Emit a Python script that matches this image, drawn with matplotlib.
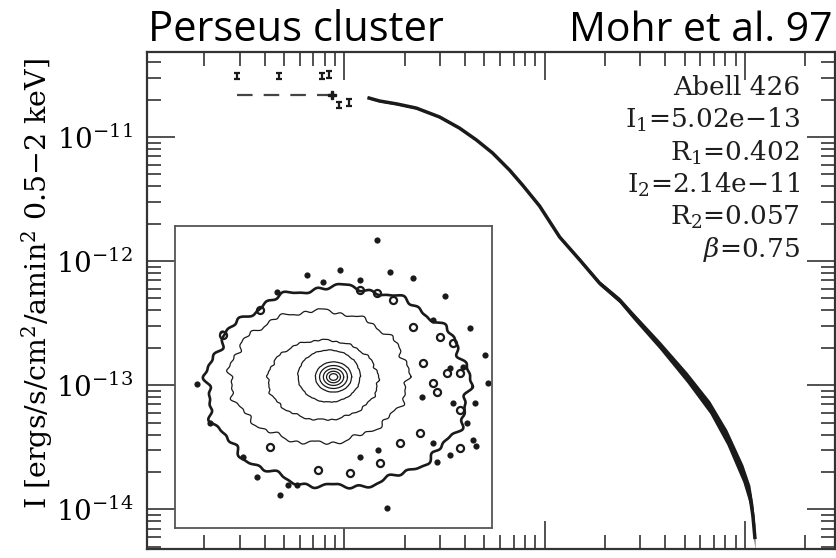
import matplotlib
matplotlib.use("Agg")
import matplotlib.pyplot as plt
import numpy as np

# surface brightness profile (radius, intensity)
radius = [0.0133, 0.0150, 0.0182, 0.0229, 0.0299, 0.0376, 0.0457, 0.0550,
          0.0668, 0.0776, 0.0944, 0.119, 0.150, 0.188, 0.237, 0.275,
          0.376, 0.513, 0.668, 0.813, 0.977, 1.059, 1.096, 1.122]
intensity = [2.06e-11, 1.95e-11, 1.85e-11, 1.71e-11, 1.45e-11, 1.18e-11,
             9.46e-12, 7.43e-12, 5.42e-12, 4.10e-12, 2.78e-12, 1.56e-12,
             1.02e-12, 6.65e-13, 4.84e-13, 3.67e-13, 2.10e-13, 1.16e-13,
             6.65e-14, 3.81e-14, 1.95e-14, 1.30e-14, 8.95e-15, 5.94e-15]
scatter_dex = [0.008, 0.008, 0.008, 0.008, 0.008, 0.008, 0.008, 0.008,
               0.01, 0.01, 0.01, 0.012, 0.015, 0.018, 0.022, 0.027,
               0.033, 0.042, 0.05, 0.06, 0.07, 0.08, 0.09, 0.1]

# central points and model extension
model_r = [0.0029, 0.0087]
model_i = [2.18e-11, 2.18e-11]
upper_r = [0.0029, 0.0047, 0.0077, 0.0084]
upper_i = [3.1e-11, 3.1e-11, 3.1e-11, 3.2e-11]
low_r = [0.0094, 0.0106]
low_i = [1.81e-11, 1.90e-11]

y_ticks = [1e-14, 1e-13, 1e-12, 1e-11]

fit_lines = ["Abell 426", r"I$_1$=5.02e$-$13", r"R$_1$=0.402",
             r"I$_2$=2.14e$-$11", r"R$_2$=0.057", r"$\beta$=0.75"]

# inset contour map (fractions of the inset box)
ring_cx = [0.514, 0.454, 0.467, 0.486, 0.50, 0.50, 0.50, 0.50, 0.50]
ring_cy = [0.467, 0.500, 0.490, 0.503, 0.50, 0.50, 0.50, 0.50, 0.50]
ring_a = [0.413, 0.281, 0.174, 0.098, 0.057, 0.044, 0.032, 0.022, 0.013]
ring_b = [0.331, 0.219, 0.132, 0.086, 0.050, 0.038, 0.028, 0.019, 0.011]
ring_lw = [1.9, 0.9, 0.9, 0.9, 0.9, 0.9, 0.9, 0.9, 0.9]
ring_wob = [0.045, 0.05, 0.035, 0.02, 0.012, 0.0, 0.0, 0.0, 0.0]

dot_x = [0.636, 0.520, 0.678, 0.852, 0.321, 0.931, 0.978, 0.988, 0.946, 0.941,
         0.825, 0.668, 0.258, 0.216, 0.110, 0.068, 0.331, 0.357, 0.384, 0.641,
         0.584, 0.878, 0.920, 0.868, 0.910, 0.584, 0.752, 0.468, 0.415, 0.147,
         0.815, 0.778, 0.815, 0.868, 0.950]
dot_y = [0.954, 0.854, 0.849, 0.768, 0.783, 0.661, 0.573, 0.481, 0.415, 0.291,
         0.220, 0.065, 0.170, 0.236, 0.347, 0.476, 0.109, 0.142, 0.142, 0.258,
         0.236, 0.413, 0.347, 0.529, 0.534, 0.821, 0.827, 0.816, 0.838, 0.645,
         0.689, 0.435, 0.280, 0.242, 0.270]
loop_x = [0.826, 0.899, 0.815, 0.857, 0.899, 0.783, 0.836, 0.752, 0.878, 0.584,
          0.636, 0.689, 0.268, 0.152, 0.452, 0.552, 0.899, 0.773, 0.710, 0.300,
          0.647]
loop_y = [0.451, 0.391, 0.479, 0.512, 0.512, 0.545, 0.634, 0.667, 0.612, 0.788,
          0.777, 0.755, 0.722, 0.639, 0.192, 0.181, 0.264, 0.314, 0.280, 0.269,
          0.214]

plt.rcParams["font.family"] = "DejaVu Serif"
plt.rcParams["mathtext.fontset"] = "dejavuserif"
ink = "#1a1a1a"

fig = plt.figure(figsize=(8.37, 5.58), dpi=100)
ax = fig.add_axes([147 / 837, 9 / 558, 688 / 837, 497 / 558])

r = np.array(radius)
i = np.array(intensity)
d = np.array(scatter_dex)
ax.fill_between(r, i * 10 ** (-d), i * 10 ** d, color=ink, lw=0)
ax.plot(r, i, color=ink, lw=2.5)
ax.plot(model_r, model_i, color="#444444", lw=1.6, dashes=(7, 5))
ax.plot([0.0087], [2.18e-11], marker="P", ms=6, color=ink)
ax.errorbar(upper_r, upper_i, yerr=[[x * 0.06 for x in upper_i], [x * 0.06 for x in upper_i]],
            fmt="none", ecolor=ink, elinewidth=1.6, capsize=2.5, capthick=1.6)
ax.errorbar(low_r, low_i, yerr=[[x * 0.06 for x in low_i], [x * 0.06 for x in low_i]],
            fmt="none", ecolor=ink, elinewidth=1.6, capsize=2.5, capthick=1.6)

ax.set_xscale("log")
ax.set_yscale("log")
ax.set_xlim(10 ** -2.985, 10 ** 0.45)
ax.set_ylim(10 ** -14.32, 10 ** -10.315)
ax.set_yticks(y_ticks)
ax.tick_params(which="both", direction="in", top=True, right=True,
               labelbottom=False, color="#333333", width=1.2)
ax.tick_params(which="major", length=20, labelsize=20, pad=10)
ax.tick_params(which="minor", length=10)
for s in ax.spines.values():
    s.set_linewidth(1.6)
    s.set_color("#333333")

ax.set_ylabel(r"I [ergs/s/cm$^2$/amin$^2$ 0.5$-$2 keV]", fontsize=20.5)
ax.yaxis.set_label_coords(-0.134, 0.535)

for k, line in enumerate(fit_lines):
    ax.text(800 / 837, 1 - (88 + 32.4 * k) / 558, line, transform=fig.transFigure,
            fontsize=19, ha="right", va="center", color="#1e1e1e")

fig.text(148 / 837, 1 - 41 / 558, "Perseus cluster", family="Open Sans", fontsize=30,
         ha="left", va="baseline", color="black")
fig.text(833 / 837, 1 - 41 / 558, "Mohr et al. 97", family="Open Sans", fontsize=29.5,
         ha="right", va="baseline", color="black")

# inset contour map
ins = fig.add_axes([175 / 837, 30 / 558, 317 / 837, 302 / 558])
ins.set_xlim(0, 1)
ins.set_ylim(0, 1)
ins.set_xticks([])
ins.set_yticks([])
for s in ins.spines.values():
    s.set_linewidth(1.3)
    s.set_color("#555555")
t = np.linspace(0, 2 * np.pi, 500)
for cx, cy, a, b, lw, w in zip(ring_cx, ring_cy, ring_a, ring_b, ring_lw, ring_wob):
    rr = 1 + w * (0.5 * np.sin(13 * t + 0.4) + 0.3 * np.sin(29 * t + 1.3)
                  + 0.2 * np.sin(47 * t + 2.1))
    ins.plot(cx + a * rr * np.cos(t), cy + b * rr * np.sin(t), color=ink, lw=lw)
ins.scatter(dot_x, dot_y, s=20, color=ink, lw=0)
ins.scatter(loop_x, loop_y, s=26, facecolor="white", edgecolor=ink, lw=1.6)

fig.savefig("out.png", dpi=100)
